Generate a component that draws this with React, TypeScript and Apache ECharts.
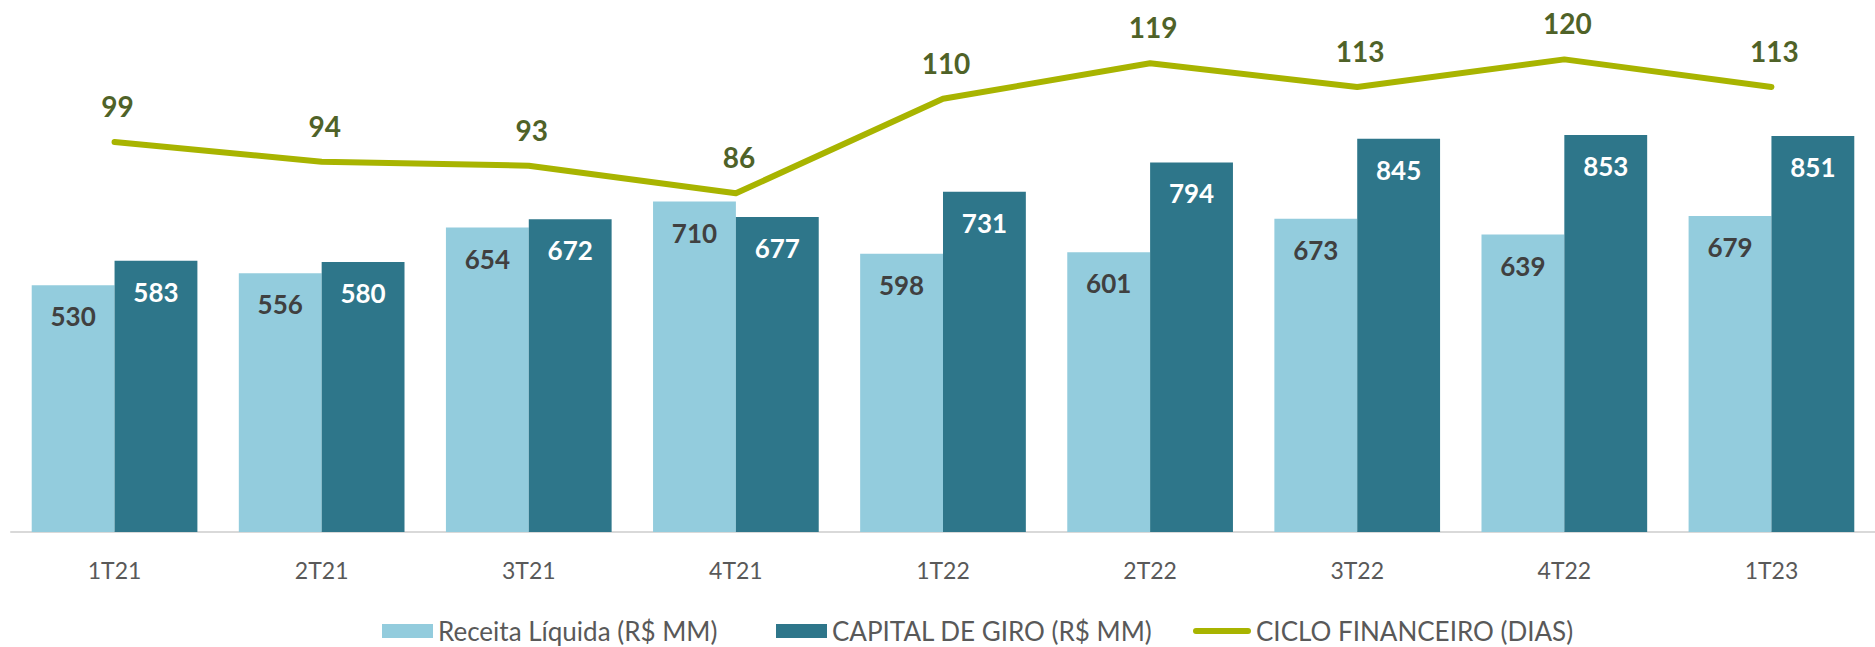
import React, { useEffect, useRef } from "react";
import * as echarts from "echarts";

const categories = ["1T21", "2T21", "3T21", "4T21", "1T22", "2T22", "3T22", "4T22", "1T23"];
const receitaLiquida = [530, 556, 654, 710, 598, 601, 673, 639, 679];
const capitalDeGiro = [583, 580, 672, 677, 731, 794, 845, 853, 851];
const cicloFinanceiro = [99, 94, 93, 86, 110, 119, 113, 120, 113];

const seriesNames = ["Receita Líquida (R$ MM)", "CAPITAL DE GIRO (R$ MM)", "CICLO FINANCEIRO (DIAS)"];

const FONT = "Lato, 'Open Sans', sans-serif";

export default function App() {
  const ref = useRef<HTMLDivElement>(null);

  useEffect(() => {
    if (!ref.current) return;
    const chart = echarts.init(ref.current, undefined, { renderer: "svg" });
    const legendText = { color: "#595959", fontSize: 26, lineHeight: 26, fontFamily: FONT };
    const legendBase = {
      top: 613,
      itemWidth: 51,
      itemHeight: 14,
      itemGap: 6,
      textStyle: legendText,
      selectedMode: false,
    };
    chart.setOption({
      animation: false,
      backgroundColor: "#ffffff",
      textStyle: { fontFamily: FONT },
      grid: { left: 11, top: 20, width: 1884, height: 512, containLabel: false },
      legend: [
        { ...legendBase, left: 377, data: [{ name: seriesNames[0], icon: "rect" }] },
        { ...legendBase, left: 771, data: [{ name: seriesNames[1], icon: "rect" }] },
        {
          ...legendBase,
          left: 1188,
          itemWidth: 58,
          data: [
            {
              name: seriesNames[2],
              icon: "path://M3,0 H55 A3,3 0 0 1 55,6 H3 A3,3 0 0 1 3,0 Z",
            },
          ],
        },
      ],
      xAxis: {
        type: "category",
        data: categories,
        axisLine: { show: true, lineStyle: { color: "#D9D9D9", width: 2 } },
        axisTick: { show: false },
        axisLabel: { color: "#595959", fontSize: 23, fontFamily: FONT, margin: 26 },
        splitLine: { show: false },
      },
      yAxis: [
        { type: "value", min: 0, max: 1100, show: false, splitLine: { show: false } },
        { type: "value", min: 0, max: 130, show: false, splitLine: { show: false } },
      ],
      series: [
        {
          name: seriesNames[0],
          type: "bar",
          data: receitaLiquida,
          barGap: "0%",
          barCategoryGap: "20%",
          itemStyle: { color: "#93CCDD" },
          label: {
            show: true,
            position: "insideTop",
            distance: 18,
            color: "#404040",
            fontSize: 26,
            fontWeight: "bold",
            fontFamily: FONT,
          },
        },
        {
          name: seriesNames[1],
          type: "bar",
          data: capitalDeGiro,
          barGap: "0%",
          barCategoryGap: "20%",
          itemStyle: { color: "#2E768A" },
          label: {
            show: true,
            position: "insideTop",
            distance: 18,
            color: "#ffffff",
            fontSize: 26,
            fontWeight: "bold",
            fontFamily: FONT,
          },
        },
        {
          name: seriesNames[2],
          type: "line",
          yAxisIndex: 1,
          data: cicloFinanceiro,
          symbol: "circle",
          symbolSize: 0,
          showSymbol: true,
          itemStyle: { color: "#A8B400" },
          lineStyle: { color: "#A8B400", width: 6, cap: "round", join: "round" },
          label: {
            show: true,
            position: "top",
            distance: 22,
            offset: [3, 0],
            color: "#4F6228",
            fontSize: 28,
            fontWeight: "bold",
            fontFamily: FONT,
          },
          z: 5,
        },
      ],
    });
    return () => chart.dispose();
  }, []);

  return (
    <div
      ref={ref}
      style={{ position: "absolute", left: 0, top: 0, width: 1875, height: 647 }}
    />
  );
}
